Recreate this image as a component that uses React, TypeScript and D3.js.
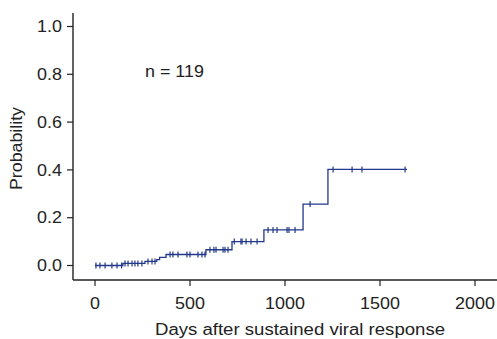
import React from "react";
import * as d3 from "d3";

const eventDays = [0, 147, 263, 325, 340, 374, 584, 721, 889, 1095, 1226];
const eventProb = [0, 0.0085, 0.017, 0.025, 0.034, 0.046, 0.066, 0.1, 0.149, 0.257, 0.402];
const lastDay = 1642;
const censorDays = [
  5, 26, 53, 89, 116, 140,
  158, 174, 195, 210, 226, 247,
  279, 300, 316,
  395, 410, 437, 484, 500, 542, 563, 579,
  605, 626, 637, 674, 684, 700,
  733, 768, 774, 795, 821, 853,
  911, 937, 958, 1011, 1021, 1053,
  1132,
  1253, 1353, 1405, 1632,
];
const xTicks = [0, 500, 1000, 1500, 2000];
const yTicks = [0, 0.2, 0.4, 0.6, 0.8, 1.0];

const W = 497;
const H = 339;
const color = "#22388a";
const font = "Liberation Sans, Arial, sans-serif";
const SX = 1.12;

export default function App() {
  const x = d3.scaleLinear().domain([0, 2000]).range([95, 475]);
  const y = d3.scaleLinear().domain([0, 1]).range([265.5, 26.5]);
  const axisLeft = 73;
  const axisBottom = 280;

  const pts: [number, number][] = eventDays.map((d, i) => [d, eventProb[i]]);
  pts.push([lastDay, eventProb[eventProb.length - 1]]);
  const line = d3
    .line<[number, number]>()
    .x((d) => x(d[0]))
    .y((d) => y(d[1]))
    .curve(d3.curveStepAfter);

  const probAt = (t: number) => {
    let p = 0;
    for (let i = 0; i < eventDays.length; i++) if (eventDays[i] <= t) p = eventProb[i];
    return p;
  };

  return (
    <svg width={W} height={H} style={{ position: "absolute", left: 0, top: 0, background: "#fff" }}>
      <line x1={axisLeft} x2={axisLeft} y1={13} y2={axisBottom} stroke="#222" strokeWidth={1.4} />
      <line x1={axisLeft} x2={W} y1={axisBottom} y2={axisBottom} stroke="#222" strokeWidth={1.4} />
      {yTicks.map((t) => (
        <g key={t}>
          <line x1={axisLeft - 6} x2={axisLeft} y1={y(t)} y2={y(t)} stroke="#222" strokeWidth={1.2} />
          <text
            transform={`translate(62,${y(t)}) scale(${SX},1)`}
            dy="0.36em"
            textAnchor="end"
            fontFamily={font}
            fontSize={16}
            fill="#222"
          >
            {t.toFixed(1)}
          </text>
        </g>
      ))}
      {xTicks.map((t) => (
        <g key={t}>
          <line x1={x(t)} x2={x(t)} y1={axisBottom} y2={axisBottom + 6} stroke="#222" strokeWidth={1.2} />
          <text
            transform={`translate(${x(t)},309) scale(${SX},1)`}
            textAnchor="middle"
            fontFamily={font}
            fontSize={16}
            fill="#222"
          >
            {t}
          </text>
        </g>
      ))}
      <text
        x={155}
        y={335}
        textLength={290}
        lengthAdjust="spacingAndGlyphs"
        fontFamily={font}
        fontSize={16}
        fill="#222"
      >
        Days after sustained viral response
      </text>
      <text
        transform={`translate(22,190) rotate(-90)`}
        textLength={83}
        lengthAdjust="spacingAndGlyphs"
        fontFamily={font}
        fontSize={16}
        fill="#222"
      >
        Probability
      </text>
      <text transform={`translate(145,77) scale(${SX},1)`} fontFamily={font} fontSize={16} fill="#222">
        n = 119
      </text>
      <path d={line(pts) || ""} fill="none" stroke={color} strokeWidth={1.3} />
      {censorDays.map((c, i) => (
        <line
          key={i}
          x1={x(c)}
          x2={x(c)}
          y1={y(probAt(c)) - 3}
          y2={y(probAt(c)) + 3}
          stroke={color}
          strokeWidth={1.2}
        />
      ))}
    </svg>
  );
}
